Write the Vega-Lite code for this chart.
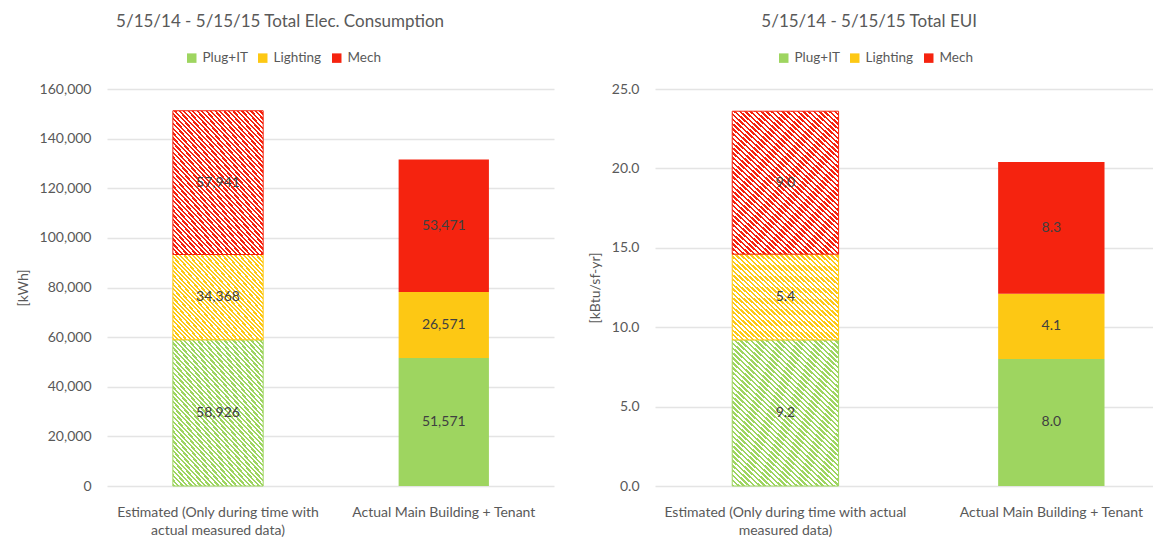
{
"$schema": "https://vega.github.io/schema/vega-lite/v6.json",
"padding": {"left": 16, "top": 13, "right": 0, "bottom": 0},
"config": {
"font": "Lato",
"view": {"stroke": null},
"axis": {"labelColor": "#595959", "labelFontSize": 14, "titleColor": "#595959", "titleFontSize": 14, "titleFontWeight": "normal", "domain": false, "ticks": false, "gridColor": "#e4e4e4", "gridWidth": 1.5},
"axisX": {"grid": false, "labelAngle": 0, "labelPadding": 19, "labelLineHeight": 18, "labelLimit": 400},
"axisY": {"labelPadding": 16, "titlePadding": 9},
"legend": {"symbolType": "square", "symbolSize": 90, "symbolStrokeWidth": 0, "labelFontSize": 13.5, "labelColor": "#595959", "labelOffset": 4, "columnPadding": 8},
"title": {"fontSize": 17, "fontWeight": "normal", "color": "#595959", "frame": "bounds", "anchor": "middle", "offset": 20}
},
"params": [
{"name": "hatchG", "value": {"gradient": "linear", "x1": 0, "y1": 1, "x2": 0.7775, "y2": -0.1504, "stops": [
{"offset":0,"color":"#9ed560"},{"offset":0.01,"color":"#9ed560"},{"offset":0.01,"color":"#fff"},{"offset":0.02,"color":"#fff"},
{"offset":0.02,"color":"#9ed560"},{"offset":0.03,"color":"#9ed560"},{"offset":0.03,"color":"#fff"},{"offset":0.04,"color":"#fff"},
{"offset":0.04,"color":"#9ed560"},{"offset":0.05,"color":"#9ed560"},{"offset":0.05,"color":"#fff"},{"offset":0.06,"color":"#fff"},
{"offset":0.06,"color":"#9ed560"},{"offset":0.07,"color":"#9ed560"},{"offset":0.07,"color":"#fff"},{"offset":0.08,"color":"#fff"},
{"offset":0.08,"color":"#9ed560"},{"offset":0.09,"color":"#9ed560"},{"offset":0.09,"color":"#fff"},{"offset":0.1,"color":"#fff"},
{"offset":0.1,"color":"#9ed560"},{"offset":0.11,"color":"#9ed560"},{"offset":0.11,"color":"#fff"},{"offset":0.12,"color":"#fff"},
{"offset":0.12,"color":"#9ed560"},{"offset":0.13,"color":"#9ed560"},{"offset":0.13,"color":"#fff"},{"offset":0.14,"color":"#fff"},
{"offset":0.14,"color":"#9ed560"},{"offset":0.15,"color":"#9ed560"},{"offset":0.15,"color":"#fff"},{"offset":0.16,"color":"#fff"},
{"offset":0.16,"color":"#9ed560"},{"offset":0.17,"color":"#9ed560"},{"offset":0.17,"color":"#fff"},{"offset":0.18,"color":"#fff"},
{"offset":0.18,"color":"#9ed560"},{"offset":0.19,"color":"#9ed560"},{"offset":0.19,"color":"#fff"},{"offset":0.2,"color":"#fff"},
{"offset":0.2,"color":"#9ed560"},{"offset":0.21,"color":"#9ed560"},{"offset":0.21,"color":"#fff"},{"offset":0.22,"color":"#fff"},
{"offset":0.22,"color":"#9ed560"},{"offset":0.23,"color":"#9ed560"},{"offset":0.23,"color":"#fff"},{"offset":0.24,"color":"#fff"},
{"offset":0.24,"color":"#9ed560"},{"offset":0.25,"color":"#9ed560"},{"offset":0.25,"color":"#fff"},{"offset":0.26,"color":"#fff"},
{"offset":0.26,"color":"#9ed560"},{"offset":0.27,"color":"#9ed560"},{"offset":0.27,"color":"#fff"},{"offset":0.28,"color":"#fff"},
{"offset":0.28,"color":"#9ed560"},{"offset":0.29,"color":"#9ed560"},{"offset":0.29,"color":"#fff"},{"offset":0.3,"color":"#fff"},
{"offset":0.3,"color":"#9ed560"},{"offset":0.31,"color":"#9ed560"},{"offset":0.31,"color":"#fff"},{"offset":0.32,"color":"#fff"},
{"offset":0.32,"color":"#9ed560"},{"offset":0.33,"color":"#9ed560"},{"offset":0.33,"color":"#fff"},{"offset":0.34,"color":"#fff"},
{"offset":0.34,"color":"#9ed560"},{"offset":0.35,"color":"#9ed560"},{"offset":0.35,"color":"#fff"},{"offset":0.36,"color":"#fff"},
{"offset":0.36,"color":"#9ed560"},{"offset":0.37,"color":"#9ed560"},{"offset":0.37,"color":"#fff"},{"offset":0.38,"color":"#fff"},
{"offset":0.38,"color":"#9ed560"},{"offset":0.39,"color":"#9ed560"},{"offset":0.39,"color":"#fff"},{"offset":0.4,"color":"#fff"},
{"offset":0.4,"color":"#9ed560"},{"offset":0.41,"color":"#9ed560"},{"offset":0.41,"color":"#fff"},{"offset":0.42,"color":"#fff"},
{"offset":0.42,"color":"#9ed560"},{"offset":0.43,"color":"#9ed560"},{"offset":0.43,"color":"#fff"},{"offset":0.44,"color":"#fff"},
{"offset":0.44,"color":"#9ed560"},{"offset":0.45,"color":"#9ed560"},{"offset":0.45,"color":"#fff"},{"offset":0.46,"color":"#fff"},
{"offset":0.46,"color":"#9ed560"},{"offset":0.47,"color":"#9ed560"},{"offset":0.47,"color":"#fff"},{"offset":0.48,"color":"#fff"},
{"offset":0.48,"color":"#9ed560"},{"offset":0.49,"color":"#9ed560"},{"offset":0.49,"color":"#fff"},{"offset":0.5,"color":"#fff"},
{"offset":0.5,"color":"#9ed560"},{"offset":0.51,"color":"#9ed560"},{"offset":0.51,"color":"#fff"},{"offset":0.52,"color":"#fff"},
{"offset":0.52,"color":"#9ed560"},{"offset":0.53,"color":"#9ed560"},{"offset":0.53,"color":"#fff"},{"offset":0.54,"color":"#fff"},
{"offset":0.54,"color":"#9ed560"},{"offset":0.55,"color":"#9ed560"},{"offset":0.55,"color":"#fff"},{"offset":0.56,"color":"#fff"},
{"offset":0.56,"color":"#9ed560"},{"offset":0.57,"color":"#9ed560"},{"offset":0.57,"color":"#fff"},{"offset":0.58,"color":"#fff"},
{"offset":0.58,"color":"#9ed560"},{"offset":0.59,"color":"#9ed560"},{"offset":0.59,"color":"#fff"},{"offset":0.6,"color":"#fff"},
{"offset":0.6,"color":"#9ed560"},{"offset":0.61,"color":"#9ed560"},{"offset":0.61,"color":"#fff"},{"offset":0.62,"color":"#fff"},
{"offset":0.62,"color":"#9ed560"},{"offset":0.63,"color":"#9ed560"},{"offset":0.63,"color":"#fff"},{"offset":0.64,"color":"#fff"},
{"offset":0.64,"color":"#9ed560"},{"offset":0.65,"color":"#9ed560"},{"offset":0.65,"color":"#fff"},{"offset":0.66,"color":"#fff"},
{"offset":0.66,"color":"#9ed560"},{"offset":0.67,"color":"#9ed560"},{"offset":0.67,"color":"#fff"},{"offset":0.68,"color":"#fff"},
{"offset":0.68,"color":"#9ed560"},{"offset":0.69,"color":"#9ed560"},{"offset":0.69,"color":"#fff"},{"offset":0.7,"color":"#fff"},
{"offset":0.7,"color":"#9ed560"},{"offset":0.71,"color":"#9ed560"},{"offset":0.71,"color":"#fff"},{"offset":0.72,"color":"#fff"},
{"offset":0.72,"color":"#9ed560"},{"offset":0.73,"color":"#9ed560"},{"offset":0.73,"color":"#fff"},{"offset":0.74,"color":"#fff"},
{"offset":0.74,"color":"#9ed560"},{"offset":0.75,"color":"#9ed560"},{"offset":0.75,"color":"#fff"},{"offset":0.76,"color":"#fff"},
{"offset":0.76,"color":"#9ed560"},{"offset":0.77,"color":"#9ed560"},{"offset":0.77,"color":"#fff"},{"offset":0.78,"color":"#fff"},
{"offset":0.78,"color":"#9ed560"},{"offset":0.79,"color":"#9ed560"},{"offset":0.79,"color":"#fff"},{"offset":0.8,"color":"#fff"},
{"offset":0.8,"color":"#9ed560"},{"offset":0.81,"color":"#9ed560"},{"offset":0.81,"color":"#fff"},{"offset":0.82,"color":"#fff"},
{"offset":0.82,"color":"#9ed560"},{"offset":0.83,"color":"#9ed560"},{"offset":0.83,"color":"#fff"},{"offset":0.84,"color":"#fff"},
{"offset":0.84,"color":"#9ed560"},{"offset":0.85,"color":"#9ed560"},{"offset":0.85,"color":"#fff"},{"offset":0.86,"color":"#fff"},
{"offset":0.86,"color":"#9ed560"},{"offset":0.87,"color":"#9ed560"},{"offset":0.87,"color":"#fff"},{"offset":0.88,"color":"#fff"},
{"offset":0.88,"color":"#9ed560"},{"offset":0.89,"color":"#9ed560"},{"offset":0.89,"color":"#fff"},{"offset":0.9,"color":"#fff"},
{"offset":0.9,"color":"#9ed560"},{"offset":0.91,"color":"#9ed560"},{"offset":0.91,"color":"#fff"},{"offset":0.92,"color":"#fff"},
{"offset":0.92,"color":"#9ed560"},{"offset":0.93,"color":"#9ed560"},{"offset":0.93,"color":"#fff"},{"offset":0.94,"color":"#fff"},
{"offset":0.94,"color":"#9ed560"},{"offset":0.95,"color":"#9ed560"},{"offset":0.95,"color":"#fff"},{"offset":0.96,"color":"#fff"},
{"offset":0.96,"color":"#9ed560"},{"offset":0.97,"color":"#9ed560"},{"offset":0.97,"color":"#fff"},{"offset":0.98,"color":"#fff"},
{"offset":0.98,"color":"#9ed560"},{"offset":0.99,"color":"#9ed560"},{"offset":0.99,"color":"#fff"},{"offset":1,"color":"#fff"}
]}},
{"name": "hatchY", "value": {"gradient": "linear", "x1": 0, "y1": 1, "x2": 1.0607, "y2": 0.0692, "stops": [
{"offset":0,"color":"#fdc814"},{"offset":0.0125,"color":"#fdc814"},{"offset":0.0125,"color":"#fff"},{"offset":0.025,"color":"#fff"},
{"offset":0.025,"color":"#fdc814"},{"offset":0.0375,"color":"#fdc814"},{"offset":0.0375,"color":"#fff"},{"offset":0.05,"color":"#fff"},
{"offset":0.05,"color":"#fdc814"},{"offset":0.0625,"color":"#fdc814"},{"offset":0.0625,"color":"#fff"},{"offset":0.075,"color":"#fff"},
{"offset":0.075,"color":"#fdc814"},{"offset":0.0875,"color":"#fdc814"},{"offset":0.0875,"color":"#fff"},{"offset":0.1,"color":"#fff"},
{"offset":0.1,"color":"#fdc814"},{"offset":0.1125,"color":"#fdc814"},{"offset":0.1125,"color":"#fff"},{"offset":0.125,"color":"#fff"},
{"offset":0.125,"color":"#fdc814"},{"offset":0.1375,"color":"#fdc814"},{"offset":0.1375,"color":"#fff"},{"offset":0.15,"color":"#fff"},
{"offset":0.15,"color":"#fdc814"},{"offset":0.1625,"color":"#fdc814"},{"offset":0.1625,"color":"#fff"},{"offset":0.175,"color":"#fff"},
{"offset":0.175,"color":"#fdc814"},{"offset":0.1875,"color":"#fdc814"},{"offset":0.1875,"color":"#fff"},{"offset":0.2,"color":"#fff"},
{"offset":0.2,"color":"#fdc814"},{"offset":0.2125,"color":"#fdc814"},{"offset":0.2125,"color":"#fff"},{"offset":0.225,"color":"#fff"},
{"offset":0.225,"color":"#fdc814"},{"offset":0.2375,"color":"#fdc814"},{"offset":0.2375,"color":"#fff"},{"offset":0.25,"color":"#fff"},
{"offset":0.25,"color":"#fdc814"},{"offset":0.2625,"color":"#fdc814"},{"offset":0.2625,"color":"#fff"},{"offset":0.275,"color":"#fff"},
{"offset":0.275,"color":"#fdc814"},{"offset":0.2875,"color":"#fdc814"},{"offset":0.2875,"color":"#fff"},{"offset":0.3,"color":"#fff"},
{"offset":0.3,"color":"#fdc814"},{"offset":0.3125,"color":"#fdc814"},{"offset":0.3125,"color":"#fff"},{"offset":0.325,"color":"#fff"},
{"offset":0.325,"color":"#fdc814"},{"offset":0.3375,"color":"#fdc814"},{"offset":0.3375,"color":"#fff"},{"offset":0.35,"color":"#fff"},
{"offset":0.35,"color":"#fdc814"},{"offset":0.3625,"color":"#fdc814"},{"offset":0.3625,"color":"#fff"},{"offset":0.375,"color":"#fff"},
{"offset":0.375,"color":"#fdc814"},{"offset":0.3875,"color":"#fdc814"},{"offset":0.3875,"color":"#fff"},{"offset":0.4,"color":"#fff"},
{"offset":0.4,"color":"#fdc814"},{"offset":0.4125,"color":"#fdc814"},{"offset":0.4125,"color":"#fff"},{"offset":0.425,"color":"#fff"},
{"offset":0.425,"color":"#fdc814"},{"offset":0.4375,"color":"#fdc814"},{"offset":0.4375,"color":"#fff"},{"offset":0.45,"color":"#fff"},
{"offset":0.45,"color":"#fdc814"},{"offset":0.4625,"color":"#fdc814"},{"offset":0.4625,"color":"#fff"},{"offset":0.475,"color":"#fff"},
{"offset":0.475,"color":"#fdc814"},{"offset":0.4875,"color":"#fdc814"},{"offset":0.4875,"color":"#fff"},{"offset":0.5,"color":"#fff"},
{"offset":0.5,"color":"#fdc814"},{"offset":0.5125,"color":"#fdc814"},{"offset":0.5125,"color":"#fff"},{"offset":0.525,"color":"#fff"},
{"offset":0.525,"color":"#fdc814"},{"offset":0.5375,"color":"#fdc814"},{"offset":0.5375,"color":"#fff"},{"offset":0.55,"color":"#fff"},
{"offset":0.55,"color":"#fdc814"},{"offset":0.5625,"color":"#fdc814"},{"offset":0.5625,"color":"#fff"},{"offset":0.575,"color":"#fff"},
{"offset":0.575,"color":"#fdc814"},{"offset":0.5875,"color":"#fdc814"},{"offset":0.5875,"color":"#fff"},{"offset":0.6,"color":"#fff"},
{"offset":0.6,"color":"#fdc814"},{"offset":0.6125,"color":"#fdc814"},{"offset":0.6125,"color":"#fff"},{"offset":0.625,"color":"#fff"},
{"offset":0.625,"color":"#fdc814"},{"offset":0.6375,"color":"#fdc814"},{"offset":0.6375,"color":"#fff"},{"offset":0.65,"color":"#fff"},
{"offset":0.65,"color":"#fdc814"},{"offset":0.6625,"color":"#fdc814"},{"offset":0.6625,"color":"#fff"},{"offset":0.675,"color":"#fff"},
{"offset":0.675,"color":"#fdc814"},{"offset":0.6875,"color":"#fdc814"},{"offset":0.6875,"color":"#fff"},{"offset":0.7,"color":"#fff"},
{"offset":0.7,"color":"#fdc814"},{"offset":0.7125,"color":"#fdc814"},{"offset":0.7125,"color":"#fff"},{"offset":0.725,"color":"#fff"},
{"offset":0.725,"color":"#fdc814"},{"offset":0.7375,"color":"#fdc814"},{"offset":0.7375,"color":"#fff"},{"offset":0.75,"color":"#fff"},
{"offset":0.75,"color":"#fdc814"},{"offset":0.7625,"color":"#fdc814"},{"offset":0.7625,"color":"#fff"},{"offset":0.775,"color":"#fff"},
{"offset":0.775,"color":"#fdc814"},{"offset":0.7875,"color":"#fdc814"},{"offset":0.7875,"color":"#fff"},{"offset":0.8,"color":"#fff"},
{"offset":0.8,"color":"#fdc814"},{"offset":0.8125,"color":"#fdc814"},{"offset":0.8125,"color":"#fff"},{"offset":0.825,"color":"#fff"},
{"offset":0.825,"color":"#fdc814"},{"offset":0.8375,"color":"#fdc814"},{"offset":0.8375,"color":"#fff"},{"offset":0.85,"color":"#fff"},
{"offset":0.85,"color":"#fdc814"},{"offset":0.8625,"color":"#fdc814"},{"offset":0.8625,"color":"#fff"},{"offset":0.875,"color":"#fff"},
{"offset":0.875,"color":"#fdc814"},{"offset":0.8875,"color":"#fdc814"},{"offset":0.8875,"color":"#fff"},{"offset":0.9,"color":"#fff"},
{"offset":0.9,"color":"#fdc814"},{"offset":0.9125,"color":"#fdc814"},{"offset":0.9125,"color":"#fff"},{"offset":0.925,"color":"#fff"},
{"offset":0.925,"color":"#fdc814"},{"offset":0.9375,"color":"#fdc814"},{"offset":0.9375,"color":"#fff"},{"offset":0.95,"color":"#fff"},
{"offset":0.95,"color":"#fdc814"},{"offset":0.9625,"color":"#fdc814"},{"offset":0.9625,"color":"#fff"},{"offset":0.975,"color":"#fff"},
{"offset":0.975,"color":"#fdc814"},{"offset":0.9875,"color":"#fdc814"},{"offset":0.9875,"color":"#fff"},{"offset":1,"color":"#fff"}
]}},
{"name": "hatchR", "value": {"gradient": "linear", "x1": 0, "y1": 1, "x2": 0.7775, "y2": -0.1504, "stops": [
{"offset":0,"color":"#f5230f"},{"offset":0.01,"color":"#f5230f"},{"offset":0.01,"color":"#fff"},{"offset":0.02,"color":"#fff"},
{"offset":0.02,"color":"#f5230f"},{"offset":0.03,"color":"#f5230f"},{"offset":0.03,"color":"#fff"},{"offset":0.04,"color":"#fff"},
{"offset":0.04,"color":"#f5230f"},{"offset":0.05,"color":"#f5230f"},{"offset":0.05,"color":"#fff"},{"offset":0.06,"color":"#fff"},
{"offset":0.06,"color":"#f5230f"},{"offset":0.07,"color":"#f5230f"},{"offset":0.07,"color":"#fff"},{"offset":0.08,"color":"#fff"},
{"offset":0.08,"color":"#f5230f"},{"offset":0.09,"color":"#f5230f"},{"offset":0.09,"color":"#fff"},{"offset":0.1,"color":"#fff"},
{"offset":0.1,"color":"#f5230f"},{"offset":0.11,"color":"#f5230f"},{"offset":0.11,"color":"#fff"},{"offset":0.12,"color":"#fff"},
{"offset":0.12,"color":"#f5230f"},{"offset":0.13,"color":"#f5230f"},{"offset":0.13,"color":"#fff"},{"offset":0.14,"color":"#fff"},
{"offset":0.14,"color":"#f5230f"},{"offset":0.15,"color":"#f5230f"},{"offset":0.15,"color":"#fff"},{"offset":0.16,"color":"#fff"},
{"offset":0.16,"color":"#f5230f"},{"offset":0.17,"color":"#f5230f"},{"offset":0.17,"color":"#fff"},{"offset":0.18,"color":"#fff"},
{"offset":0.18,"color":"#f5230f"},{"offset":0.19,"color":"#f5230f"},{"offset":0.19,"color":"#fff"},{"offset":0.2,"color":"#fff"},
{"offset":0.2,"color":"#f5230f"},{"offset":0.21,"color":"#f5230f"},{"offset":0.21,"color":"#fff"},{"offset":0.22,"color":"#fff"},
{"offset":0.22,"color":"#f5230f"},{"offset":0.23,"color":"#f5230f"},{"offset":0.23,"color":"#fff"},{"offset":0.24,"color":"#fff"},
{"offset":0.24,"color":"#f5230f"},{"offset":0.25,"color":"#f5230f"},{"offset":0.25,"color":"#fff"},{"offset":0.26,"color":"#fff"},
{"offset":0.26,"color":"#f5230f"},{"offset":0.27,"color":"#f5230f"},{"offset":0.27,"color":"#fff"},{"offset":0.28,"color":"#fff"},
{"offset":0.28,"color":"#f5230f"},{"offset":0.29,"color":"#f5230f"},{"offset":0.29,"color":"#fff"},{"offset":0.3,"color":"#fff"},
{"offset":0.3,"color":"#f5230f"},{"offset":0.31,"color":"#f5230f"},{"offset":0.31,"color":"#fff"},{"offset":0.32,"color":"#fff"},
{"offset":0.32,"color":"#f5230f"},{"offset":0.33,"color":"#f5230f"},{"offset":0.33,"color":"#fff"},{"offset":0.34,"color":"#fff"},
{"offset":0.34,"color":"#f5230f"},{"offset":0.35,"color":"#f5230f"},{"offset":0.35,"color":"#fff"},{"offset":0.36,"color":"#fff"},
{"offset":0.36,"color":"#f5230f"},{"offset":0.37,"color":"#f5230f"},{"offset":0.37,"color":"#fff"},{"offset":0.38,"color":"#fff"},
{"offset":0.38,"color":"#f5230f"},{"offset":0.39,"color":"#f5230f"},{"offset":0.39,"color":"#fff"},{"offset":0.4,"color":"#fff"},
{"offset":0.4,"color":"#f5230f"},{"offset":0.41,"color":"#f5230f"},{"offset":0.41,"color":"#fff"},{"offset":0.42,"color":"#fff"},
{"offset":0.42,"color":"#f5230f"},{"offset":0.43,"color":"#f5230f"},{"offset":0.43,"color":"#fff"},{"offset":0.44,"color":"#fff"},
{"offset":0.44,"color":"#f5230f"},{"offset":0.45,"color":"#f5230f"},{"offset":0.45,"color":"#fff"},{"offset":0.46,"color":"#fff"},
{"offset":0.46,"color":"#f5230f"},{"offset":0.47,"color":"#f5230f"},{"offset":0.47,"color":"#fff"},{"offset":0.48,"color":"#fff"},
{"offset":0.48,"color":"#f5230f"},{"offset":0.49,"color":"#f5230f"},{"offset":0.49,"color":"#fff"},{"offset":0.5,"color":"#fff"},
{"offset":0.5,"color":"#f5230f"},{"offset":0.51,"color":"#f5230f"},{"offset":0.51,"color":"#fff"},{"offset":0.52,"color":"#fff"},
{"offset":0.52,"color":"#f5230f"},{"offset":0.53,"color":"#f5230f"},{"offset":0.53,"color":"#fff"},{"offset":0.54,"color":"#fff"},
{"offset":0.54,"color":"#f5230f"},{"offset":0.55,"color":"#f5230f"},{"offset":0.55,"color":"#fff"},{"offset":0.56,"color":"#fff"},
{"offset":0.56,"color":"#f5230f"},{"offset":0.57,"color":"#f5230f"},{"offset":0.57,"color":"#fff"},{"offset":0.58,"color":"#fff"},
{"offset":0.58,"color":"#f5230f"},{"offset":0.59,"color":"#f5230f"},{"offset":0.59,"color":"#fff"},{"offset":0.6,"color":"#fff"},
{"offset":0.6,"color":"#f5230f"},{"offset":0.61,"color":"#f5230f"},{"offset":0.61,"color":"#fff"},{"offset":0.62,"color":"#fff"},
{"offset":0.62,"color":"#f5230f"},{"offset":0.63,"color":"#f5230f"},{"offset":0.63,"color":"#fff"},{"offset":0.64,"color":"#fff"},
{"offset":0.64,"color":"#f5230f"},{"offset":0.65,"color":"#f5230f"},{"offset":0.65,"color":"#fff"},{"offset":0.66,"color":"#fff"},
{"offset":0.66,"color":"#f5230f"},{"offset":0.67,"color":"#f5230f"},{"offset":0.67,"color":"#fff"},{"offset":0.68,"color":"#fff"},
{"offset":0.68,"color":"#f5230f"},{"offset":0.69,"color":"#f5230f"},{"offset":0.69,"color":"#fff"},{"offset":0.7,"color":"#fff"},
{"offset":0.7,"color":"#f5230f"},{"offset":0.71,"color":"#f5230f"},{"offset":0.71,"color":"#fff"},{"offset":0.72,"color":"#fff"},
{"offset":0.72,"color":"#f5230f"},{"offset":0.73,"color":"#f5230f"},{"offset":0.73,"color":"#fff"},{"offset":0.74,"color":"#fff"},
{"offset":0.74,"color":"#f5230f"},{"offset":0.75,"color":"#f5230f"},{"offset":0.75,"color":"#fff"},{"offset":0.76,"color":"#fff"},
{"offset":0.76,"color":"#f5230f"},{"offset":0.77,"color":"#f5230f"},{"offset":0.77,"color":"#fff"},{"offset":0.78,"color":"#fff"},
{"offset":0.78,"color":"#f5230f"},{"offset":0.79,"color":"#f5230f"},{"offset":0.79,"color":"#fff"},{"offset":0.8,"color":"#fff"},
{"offset":0.8,"color":"#f5230f"},{"offset":0.81,"color":"#f5230f"},{"offset":0.81,"color":"#fff"},{"offset":0.82,"color":"#fff"},
{"offset":0.82,"color":"#f5230f"},{"offset":0.83,"color":"#f5230f"},{"offset":0.83,"color":"#fff"},{"offset":0.84,"color":"#fff"},
{"offset":0.84,"color":"#f5230f"},{"offset":0.85,"color":"#f5230f"},{"offset":0.85,"color":"#fff"},{"offset":0.86,"color":"#fff"},
{"offset":0.86,"color":"#f5230f"},{"offset":0.87,"color":"#f5230f"},{"offset":0.87,"color":"#fff"},{"offset":0.88,"color":"#fff"},
{"offset":0.88,"color":"#f5230f"},{"offset":0.89,"color":"#f5230f"},{"offset":0.89,"color":"#fff"},{"offset":0.9,"color":"#fff"},
{"offset":0.9,"color":"#f5230f"},{"offset":0.91,"color":"#f5230f"},{"offset":0.91,"color":"#fff"},{"offset":0.92,"color":"#fff"},
{"offset":0.92,"color":"#f5230f"},{"offset":0.93,"color":"#f5230f"},{"offset":0.93,"color":"#fff"},{"offset":0.94,"color":"#fff"},
{"offset":0.94,"color":"#f5230f"},{"offset":0.95,"color":"#f5230f"},{"offset":0.95,"color":"#fff"},{"offset":0.96,"color":"#fff"},
{"offset":0.96,"color":"#f5230f"},{"offset":0.97,"color":"#f5230f"},{"offset":0.97,"color":"#fff"},{"offset":0.98,"color":"#fff"},
{"offset":0.98,"color":"#f5230f"},{"offset":0.99,"color":"#f5230f"},{"offset":0.99,"color":"#fff"},{"offset":1,"color":"#fff"}
]}}
],
"datasets": {
"d": [
{"scenario": "Estimated (Only during time with actual measured data)", "cat": "Plug+IT", "kwh": 58926, "eui": 9.2},
{"scenario": "Estimated (Only during time with actual measured data)", "cat": "Lighting", "kwh": 34368, "eui": 5.4},
{"scenario": "Estimated (Only during time with actual measured data)", "cat": "Mech", "kwh": 57941, "eui": 9.0},
{"scenario": "Actual Main Building + Tenant", "cat": "Plug+IT", "kwh": 51571, "eui": 8.0},
{"scenario": "Actual Main Building + Tenant", "cat": "Lighting", "kwh": 26571, "eui": 4.1},
{"scenario": "Actual Main Building + Tenant", "cat": "Mech", "kwh": 53471, "eui": 8.3}
]
},
"spacing": 34,
"resolve": {"scale": {"color": "independent"}, "legend": {"color": "independent"}},
"hconcat": [
{
"width": 447, "height": 397,
"title": {"text": "5/15/14 - 5/15/15 Total Elec. Consumption", "dx": -5},
"data": {"name": "d"},
"transform": [
{"calculate": "indexof(['Plug+IT','Lighting','Mech'], datum.cat)", "as": "ord"},
{"stack": "kwh", "groupby": ["scenario"], "sort": [{"field": "ord", "order": "ascending"}], "as": ["v0", "v1"]},
{"calculate": "(datum.v0 + datum.v1) / 2", "as": "mid"}
],
"encoding": {
"x": {"field": "scenario", "type": "nominal", "title": null,
"sort": ["Estimated (Only during time with actual measured data)", "Actual Main Building + Tenant"],
"scale": {"paddingInner": 0.6, "paddingOuter": 0.29, "align": 0.503},
"axis": {"labelExpr": "datum.value == 'Actual Main Building + Tenant' ? datum.value : ['Estimated (Only during time with', 'actual measured data)']"}}
},
"layer": [
{"transform": [{"filter": "datum.scenario == 'Actual Main Building + Tenant'"}],
"mark": {"type": "bar"},
"encoding": {
"y": {"field": "v1", "type": "quantitative", "title": "[kWh]", "scale": {"domain": [0, 160000], "nice": false}, "axis": {"values": [0, 20000, 40000, 60000, 80000, 100000, 120000, 140000, 160000], "format": ",d"}},
"y2": {"field": "v0"},
"color": {"field": "cat", "type": "nominal", "scale": {"domain": ["Plug+IT", "Lighting", "Mech"], "range": ["#9ed560", "#fdc814", "#f5230f"]}, "legend": {"orient": "none", "direction": "horizontal", "title": null, "legendX": 78, "legendY": -38}}
}},
{"transform": [{"filter": "datum.scenario != 'Actual Main Building + Tenant' && datum.cat == 'Plug+IT'"}],
"mark": {"type": "bar", "fill": {"expr": "hatchG"}, "stroke": "#9ed560", "strokeWidth": 1},
"encoding": {"y": {"field": "v1", "type": "quantitative", "title": "[kWh]"}, "y2": {"field": "v0"}}},
{"transform": [{"filter": "datum.scenario != 'Actual Main Building + Tenant' && datum.cat == 'Lighting'"}],
"mark": {"type": "bar", "fill": {"expr": "hatchY"}, "stroke": "#fdc814", "strokeWidth": 1},
"encoding": {"y": {"field": "v1", "type": "quantitative", "title": "[kWh]"}, "y2": {"field": "v0"}}},
{"transform": [{"filter": "datum.scenario != 'Actual Main Building + Tenant' && datum.cat == 'Mech'"}],
"mark": {"type": "bar", "fill": {"expr": "hatchR"}, "stroke": "#f5230f", "strokeWidth": 1},
"encoding": {"y": {"field": "v1", "type": "quantitative", "title": "[kWh]"}, "y2": {"field": "v0"}}},
{"mark": {"type": "text", "fontSize": 14, "color": "#404040"},
"encoding": {"y": {"field": "mid", "type": "quantitative", "title": "[kWh]"}, "text": {"field": "kwh", "type": "quantitative", "format": ","}}}
]
},
{
"width": 501, "height": 397,
"title": {"text": "5/15/14 - 5/15/15 Total EUI", "dx": -3},
"data": {"name": "d"},
"transform": [
{"calculate": "indexof(['Plug+IT','Lighting','Mech'], datum.cat)", "as": "ord"},
{"stack": "eui", "groupby": ["scenario"], "sort": [{"field": "ord", "order": "ascending"}], "as": ["v0", "v1"]},
{"calculate": "(datum.v0 + datum.v1) / 2", "as": "mid"}
],
"encoding": {
"x": {"field": "scenario", "type": "nominal", "title": null,
"sort": ["Estimated (Only during time with actual measured data)", "Actual Main Building + Tenant"],
"scale": {"paddingInner": 0.6, "paddingOuter": 0.242, "align": 0.6},
"axis": {"labelExpr": "datum.value == 'Actual Main Building + Tenant' ? datum.value : ['Estimated (Only during time with actual', 'measured data)']"}}
},
"layer": [
{"transform": [{"filter": "datum.scenario == 'Actual Main Building + Tenant'"}],
"mark": {"type": "bar"},
"encoding": {
"y": {"field": "v1", "type": "quantitative", "title": "[kBtu/sf-yr]", "scale": {"domain": [0, 25], "nice": false}, "axis": {"values": [0, 5, 10, 15, 20, 25], "format": ".1f"}},
"y2": {"field": "v0"},
"color": {"field": "cat", "type": "nominal", "scale": {"domain": ["Plug+IT", "Lighting", "Mech"], "range": ["#9ed560", "#fdc814", "#f5230f"]}, "legend": {"orient": "none", "direction": "horizontal", "title": null, "legendX": 122, "legendY": -38}}
}},
{"transform": [{"filter": "datum.scenario != 'Actual Main Building + Tenant' && datum.cat == 'Plug+IT'"}],
"mark": {"type": "bar", "fill": {"expr": "hatchG"}, "stroke": "#9ed560", "strokeWidth": 1},
"encoding": {"y": {"field": "v1", "type": "quantitative", "title": "[kBtu/sf-yr]"}, "y2": {"field": "v0"}}},
{"transform": [{"filter": "datum.scenario != 'Actual Main Building + Tenant' && datum.cat == 'Lighting'"}],
"mark": {"type": "bar", "fill": {"expr": "hatchY"}, "stroke": "#fdc814", "strokeWidth": 1},
"encoding": {"y": {"field": "v1", "type": "quantitative", "title": "[kBtu/sf-yr]"}, "y2": {"field": "v0"}}},
{"transform": [{"filter": "datum.scenario != 'Actual Main Building + Tenant' && datum.cat == 'Mech'"}],
"mark": {"type": "bar", "fill": {"expr": "hatchR"}, "stroke": "#f5230f", "strokeWidth": 1},
"encoding": {"y": {"field": "v1", "type": "quantitative", "title": "[kBtu/sf-yr]"}, "y2": {"field": "v0"}}},
{"mark": {"type": "text", "fontSize": 14, "color": "#404040"},
"encoding": {"y": {"field": "mid", "type": "quantitative", "title": "[kBtu/sf-yr]"}, "text": {"field": "eui", "type": "quantitative", "format": ".1f"}}}
]
}
]
}
